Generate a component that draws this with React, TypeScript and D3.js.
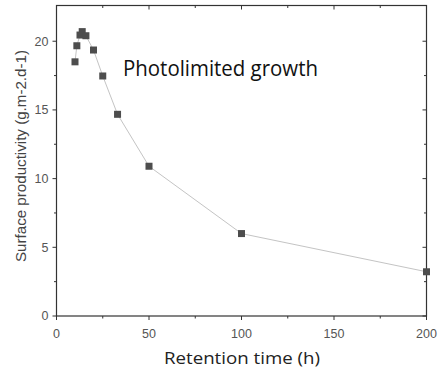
import React from 'react'
import * as d3 from 'd3'

// retention time (h) vs surface productivity (g.m-2.d-1)
const retention = [10, 11, 12.7, 13.9, 15.9, 20, 25, 33, 50, 100, 200]
const productivity = [18.5, 19.67, 20.45, 20.7, 20.4, 19.36, 17.47, 14.68, 10.9, 6.0, 3.22]
const xTicks = [0, 50, 100, 150, 200]
const yTicks = [0, 5, 10, 15, 20]

const W = 440
const H = 373
const m = { left: 56.5, right: 13.5, top: 5.5, bottom: 57 }

export default function App() {
  const x = d3.scaleLinear().domain([0, 200]).range([m.left, W - m.right])
  const y = d3.scaleLinear().domain([0, 22.6]).range([H - m.bottom, m.top])
  const pts = retention.map((r, i) => [x(r), y(productivity[i])] as [number, number])
  const line = d3.line()
  const x0 = x(0), x1 = x(200), y0 = y(0), y1 = m.top
  const xMinor = d3.range(25, 200, 50)
  const yMinor = d3.range(2.5, 22.5, 5)
  const axisCol = '#333'
  const labelCol = '#555'

  return (
    <svg width={W} height={H} style={{ position: 'absolute', left: 0, top: 0, background: '#fff' }}>
      {/* frame */}
      <rect x={x0} y={y1} width={x1 - x0} height={y0 - y1} fill="none" stroke={axisCol} strokeWidth={1.2} />

      {/* bottom ticks (outward), top ticks (inward) */}
      {xTicks.map(t => (
        <g key={'xb' + t}>
          <line x1={x(t)} x2={x(t)} y1={y0} y2={y0 + 4} stroke={axisCol} />
          <line x1={x(t)} x2={x(t)} y1={y1} y2={y1 + 4} stroke={axisCol} />
          <text x={x(t)} y={y0 + 22} textAnchor="middle" fontFamily="Liberation Sans, Arial" fontSize={12.5} fill={labelCol}>{t}</text>
        </g>
      ))}
      {xMinor.map(t => (
        <g key={'xm' + t}>
          <line x1={x(t)} x2={x(t)} y1={y0} y2={y0 + 2.5} stroke={axisCol} />
          <line x1={x(t)} x2={x(t)} y1={y1} y2={y1 + 2.5} stroke={axisCol} />
        </g>
      ))}

      {/* left ticks (outward) and right ticks (inward) */}
      {yTicks.map(t => (
        <g key={'yt' + t}>
          <line x1={x0 - 4} x2={x0} y1={y(t)} y2={y(t)} stroke={axisCol} />
          <line x1={x1 - 4} x2={x1} y1={y(t)} y2={y(t)} stroke={axisCol} />
          <text x={x0 - 8} y={y(t)} dy="0.35em" textAnchor="end" fontFamily="Liberation Sans, Arial" fontSize={12.5} fill={labelCol}>{t}</text>
        </g>
      ))}
      {yMinor.map(t => (
        <g key={'ym' + t}>
          <line x1={x0 - 2.5} x2={x0} y1={y(t)} y2={y(t)} stroke={axisCol} />
          <line x1={x1 - 2.5} x2={x1} y1={y(t)} y2={y(t)} stroke={axisCol} />
        </g>
      ))}

      {/* series */}
      <path d={line(pts) ?? ''} fill="none" stroke="#c4c4c4" strokeWidth={1} />
      {pts.map(([px, py], i) => (
        <rect key={i} x={px - 3.5} y={py - 3.5} width={7} height={7} fill="#4d4d4d" />
      ))}

      {/* labels */}
      <text transform={`translate(26,156) rotate(-90)`} textAnchor="middle"
        fontFamily="Liberation Sans, Arial" fontSize={14} fill="#444"
        textLength={212} lengthAdjust="spacingAndGlyphs">Surface productivity (g.m-2.d-1)</text>
      <text x={(x0 + x1) / 2 + 0.5} y={364} textAnchor="middle" fontFamily="Open Sans, sans-serif" fontSize={17}
        fill="#222" textLength={156} lengthAdjust="spacingAndGlyphs">Retention time (h)</text>
      <text x={123} y={76} fontFamily="Open Sans, sans-serif" fontSize={22} fill="#111"
        textLength={195} lengthAdjust="spacingAndGlyphs">Photolimited growth</text>
    </svg>
  )
}
